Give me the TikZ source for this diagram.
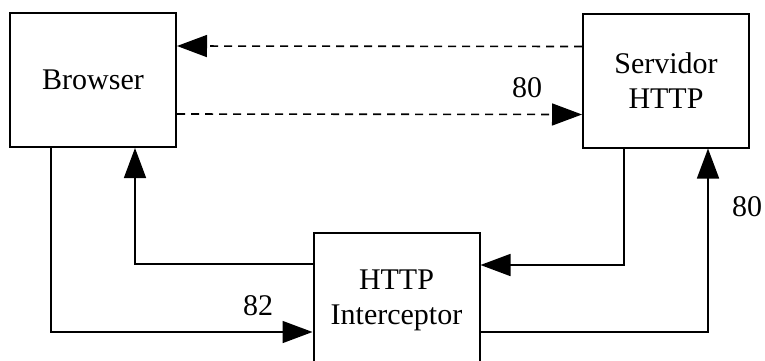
\documentclass[tikz,border=0pt]{standalone}
\usepackage{fontspec}
\setmainfont{Liberation Serif}
\usetikzlibrary{
	calc,
	arrows.meta}

\begin{document}
\begin{tikzpicture}[x=1pt,y=-1pt,>={Triangle[length=30pt,width=22pt]}]
		\tikzstyle{box}=[rectangle,draw,line width=2pt,minimum width=166pt,
						minimum height=134pt,inner sep=0pt,align=center,
						font=\fontsize{30}{35}\selectfont]
		\tikzstyle{link}=[line width=1.6pt]
		\tikzstyle{port}=[font=\fontsize{30}{35}\selectfont]

		\useasboundingbox (0,0) rectangle (765,360);
		\clip (0,0) rectangle (765,360);

		% boxes
		\node[box] (Browser) at (93,80) {Browser};
		\node[box] (Servidor) at (666,80.5) {Servidor\\HTTP};
		\node[box] (Interceptor) at (396.5,300) {HTTP\\Interceptor};

		% direct path
		\draw [link,->,dash pattern=on 8pt off 6pt] ([yshift=34pt]Servidor.west) -- ([yshift=34pt]Browser.east);
		\draw [link,->,dash pattern=on 8pt off 6pt] ([yshift=-34pt]Browser.east) -- ([yshift=-34pt]Servidor.west);
		\node[port] (p80a) at (527,88) {80};

		% through the interceptor
		\draw [link,->] ([xshift=-42pt]Browser.south) |- ([yshift=-32pt]Interceptor.west);
		\draw [link,->] ([yshift=36pt]Interceptor.west) -| ([xshift=42pt]Browser.south);
		\draw [link,->] ([xshift=-42pt]Servidor.south) |- ([yshift=35pt]Interceptor.east);
		\draw [link,->] ([yshift=-32pt]Interceptor.east) -| ([xshift=42pt]Servidor.south);
		\node[port] (p82) at (258,306) {82};
		\node[port] (p80b) at (747,207) {80};
\end{tikzpicture}
\end{document}
